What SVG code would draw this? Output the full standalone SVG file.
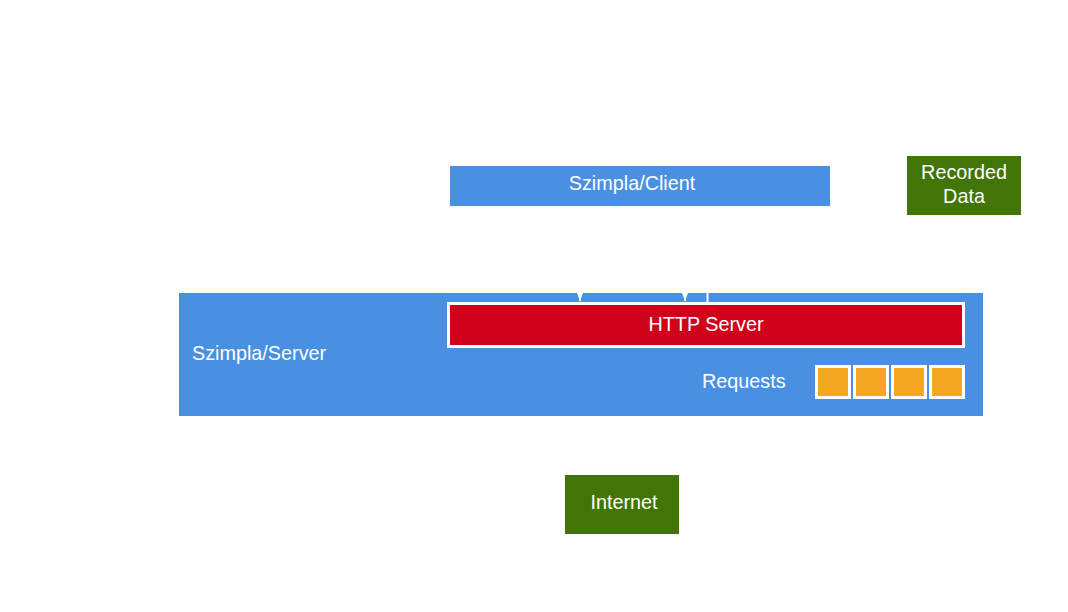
<svg xmlns="http://www.w3.org/2000/svg" width="1068" height="612" viewBox="0 0 1068 612">
<defs>
<style>
.t{font-family:"Liberation Sans",Arial,sans-serif;font-size:19.8px;fill:#ffffff}
.c{text-anchor:middle}
.blue{fill:#4A90E2}
.green{fill:#417505}
.req{fill:#F5A623;stroke:#ffffff;stroke-width:3}
.conn{stroke:#ffffff;stroke-width:2;fill:none}
</style>
<marker id="ah" viewBox="0 0 8 6" refX="8" refY="3" markerWidth="8" markerHeight="6" markerUnits="userSpaceOnUse" orient="auto">
<path d="M0,0 L8,3 L0,6 Z" fill="#ffffff"/>
</marker>
</defs>
<rect width="1068" height="612" fill="#ffffff"/>
<g id="client">
<rect class="blue" x="450" y="166" width="380" height="40"/>
<text class="t c" x="632" y="190">Szimpla/Client</text>
</g>
<g id="recorded-data">
<rect class="green" x="907" y="156" width="114" height="59"/>
<text class="t c" x="964" y="179">Recorded</text>
<text class="t c" x="964" y="203">Data</text>
</g>
<g id="server">
<rect class="blue" x="179" y="293" width="804" height="123"/>
<text class="t" x="192" y="360">Szimpla/Server</text>
</g>
<g id="http-server">
<rect x="448.5" y="303.5" width="515" height="43" fill="#D0021B" stroke="#ffffff" stroke-width="3"/>
<text class="t c" x="706" y="331">HTTP Server</text>
</g>
<g id="requests">
<text class="t" x="702" y="388">Requests</text>
<rect class="req" x="816.5" y="366.5" width="33" height="31"/>
<rect class="req" x="854.5" y="366.5" width="33" height="31"/>
<rect class="req" x="892.5" y="366.5" width="33" height="31"/>
<rect class="req" x="930.5" y="366.5" width="33" height="31"/>
</g>
<g id="internet">
<rect class="green" x="565" y="475" width="114" height="59"/>
<text class="t c" x="624" y="509">Internet</text>
</g>
<g id="connectors">
<line class="conn" x1="580" y1="206" x2="580" y2="301" marker-end="url(#ah)"/>
<line class="conn" x1="685" y1="206" x2="685" y2="301" marker-end="url(#ah)"/>
<line class="conn" x1="707.5" y1="206" x2="707.5" y2="302"/>
</g>
</svg>
